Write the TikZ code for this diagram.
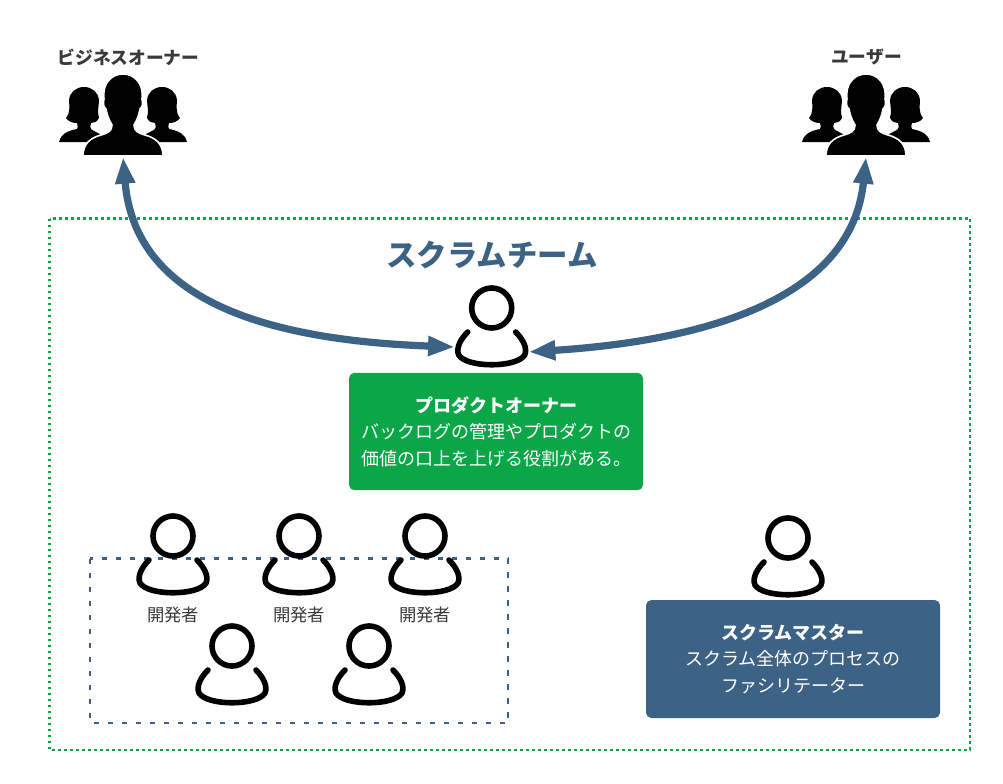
\documentclass[tikz,border=0pt]{standalone}
\usepackage{fontspec}
\setmainfont{Noto Sans CJK JP}
\usetikzlibrary{arrows.meta}
\definecolor{scrumblue}{HTML}{3C6385}
\definecolor{scrumgreen}{HTML}{0AA648}
\definecolor{textgray}{HTML}{3A3A3A}
\tikzset{
  every pic/.style={yscale=-1},
  flowarrow/.style={draw=scrumblue,line width=5.4pt,{Triangle[length=20pt,width=14pt]}-{Triangle[length=20pt,width=14pt]}},
  rolebox/.style={rounded corners=4pt,text=white,align=center,inner sep=0pt,font=\fontsize{13.5pt}{20pt}\selectfont},
  toplabel/.style={text=textgray,inner sep=0pt,font=\fontsize{13.3pt}{20pt}\selectfont\bfseries},
  devlabel/.style={text=textgray,inner sep=0pt,font=\fontsize{13pt}{20pt}\selectfont},
  pics/person/.style={code={
    \draw[line width=4.2pt] (0,0) circle (20);
    \draw[line width=4.2pt,line cap=round] (-24,24) .. controls (-31,31) and (-36,40) .. (-33,47) .. controls (-25,60) and (25,60) .. (33,47) .. controls (36,40) and (31,31) .. (24,24);
    \coordinate (-left) at (-37,39);
    \coordinate (-right) at (37,44);
  }},
  pics/crowd/.style={code={
    %Side figures
    \foreach \side in {1,-1}{
      \fill[xscale=\side] (-64,-14) .. controls (-62,-22) and (-56,-25) .. (-46,-27) .. controls (-45,-29) and (-45,-30) .. (-46,-33) .. controls (-50,-33) and (-54,-34) .. (-57,-38) .. controls (-52,-44) and (-54,-52) .. (-54,-56) .. controls (-53,-64) and (-47,-69) .. (-39,-69) .. controls (-31,-69) and (-25,-64) .. (-24,-56) .. controls (-24,-52) and (-26,-44) .. (-24,-38) .. controls (-26,-34) and (-29,-33) .. (-32,-33) .. controls (-33,-30) and (-33,-29) .. (-32,-27) .. controls (-30,-25) and (-26,-24) .. (-20,-20) -- (-20,-14) -- cycle;
    }
    %Main figure
    \filldraw[fill=black,draw=white,line width=1.2pt] (-40,0) .. controls (-40,-12) and (-33,-18) .. (-22,-21) .. controls (-15,-23) and (-11,-25) .. (-11,-31) .. controls (-14,-36) and (-16,-41) .. (-17,-47) .. controls (-20,-49) and (-20,-54) .. (-19,-57) .. controls (-21,-72) and (-12,-82) .. (0,-82) .. controls (12,-82) and (21,-72) .. (19,-57) .. controls (20,-54) and (20,-49) .. (17,-47) .. controls (16,-41) and (14,-36) .. (11,-31) .. controls (11,-25) and (15,-23) .. (22,-21) .. controls (33,-18) and (40,-12) .. (40,0) -- cycle;
    \coordinate (-foot) at (0,1);
  }}
}
\begin{document}
\begin{tikzpicture}[x=0.75pt,y=0.75pt,yscale=-1]
\useasboundingbox (0,0) rectangle (1003,783);

%Shape: Rectangle
\draw[scrumgreen,line width=1.9pt,dash pattern=on 1.9pt off 2.6pt] (49.5,218.5) rectangle (970,750);
%Shape: Rectangle
\draw[scrumblue,line width=1.9pt,dash pattern=on 3.8pt off 6.7pt] (90,558.5) rectangle (508,723);

%People
\pic (bizowner) at (123,156) {crowd};
\pic (user) at (866,156) {crowd};
\pic (owner) at (491.7,308) {person};
\pic (dev1) at (173,536) {person};
\pic (dev2) at (299,536) {person};
\pic (dev3) at (425,536) {person};
\pic (dev4) at (232,646) {person};
\pic (dev5) at (369,646) {person};
\pic (master) at (788,538) {person};

%Arrows
\draw[flowarrow] (bizowner-foot) .. controls (135,300) and (265,340) .. (owner-left);
\draw[flowarrow] (user-foot) .. controls (852,295) and (715,340) .. (owner-right);

%Boxes
\node[rolebox,fill=scrumgreen,minimum width=220.5pt,minimum height=88pt] (ownerbox) at (496,431.5) {{\bfseries プロダクトオーナー}\\バックログの管理やプロダクトの\\価値の口上を上げる役割がある。};
\node[rolebox,fill=scrumblue,minimum width=220.5pt,minimum height=88.5pt] (masterbox) at (793,659) {{\bfseries スクラムマスター}\\スクラム全体のプロセスの\\ファシリテーター};

% Text Node
\node[toplabel] (bizownerlabel) at (128.5,57) {ビジネスオーナー};
\node[toplabel] (userlabel) at (866.5,57) {ユーザー};
\node[inner sep=0pt,text=scrumblue,font=\fontsize{22.8pt}{28pt}\selectfont\bfseries] (teamlabel) at (492,255) {スクラムチーム};
\node[devlabel] (dev1label) at (173,615) {開発者};
\node[devlabel] (dev2label) at (299,615) {開発者};
\node[devlabel] (dev3label) at (425,615) {開発者};
\end{tikzpicture}
\end{document}
